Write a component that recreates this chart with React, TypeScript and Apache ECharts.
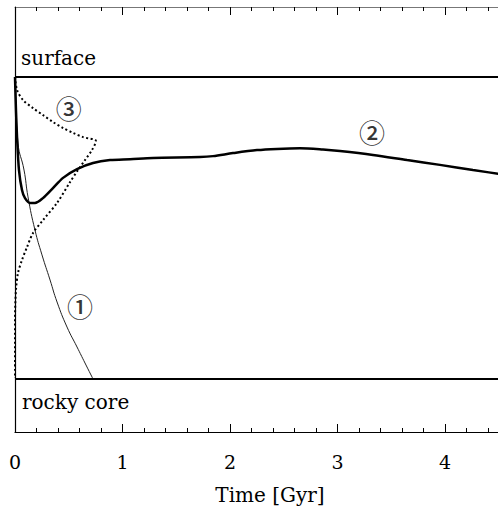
import React, { useEffect, useRef } from "react";
import * as echarts from "echarts";

// Time [Gyr] vs relative depth (0 = surface, 1 = rocky core)
const curve1Time = [0, 0.009, 0.028, 0.084, 0.121, 0.186, 0.251, 0.326, 0.391, 0.484, 0.577, 0.651, 0.726];
const curve1Depth = [0, 0.076, 0.219, 0.308, 0.397, 0.507, 0.589, 0.672, 0.745, 0.828, 0.894, 0.947, 1.0];

const curve2Time = [0, 0.009, 0.019, 0.037, 0.065, 0.093, 0.14, 0.186, 0.26, 0.353, 0.447, 0.577, 0.726, 0.884, 1.07, 1.284, 1.721, 1.842, 2.028, 2.251, 2.437, 2.651, 2.865, 3.023, 3.33, 3.647, 3.953, 4.26, 4.6];
const curve2Depth = [0, 0.109, 0.199, 0.308, 0.374, 0.401, 0.417, 0.417, 0.401, 0.368, 0.334, 0.305, 0.285, 0.275, 0.272, 0.268, 0.265, 0.262, 0.252, 0.242, 0.238, 0.236, 0.24, 0.245, 0.258, 0.275, 0.291, 0.308, 0.326];

const curve3Time = [0, 0.019, 0.074, 0.167, 0.26, 0.353, 0.447, 0.54, 0.633, 0.753, 0.716, 0.651, 0.586, 0.512, 0.391, 0.26, 0.167, 0.112, 0.065, 0.028, 0.009, 0, 0];
const curve3Depth = [0, 0.043, 0.076, 0.103, 0.126, 0.149, 0.169, 0.185, 0.199, 0.212, 0.242, 0.275, 0.308, 0.348, 0.417, 0.474, 0.517, 0.563, 0.606, 0.649, 0.705, 0.805, 0.997];

const layerDepths = [0, 1];
const annotationTime = [0.605, 3.32, 0.5];
const annotationDepth = [0.758, 0.182, 0.1];
const annotationText = ["①", "②", "③"];

const zip = (a: number[], b: number[]) => a.map((v, i) => [v, b[i]]);

export default function App() {
  const ref = useRef<HTMLDivElement>(null);
  useEffect(() => {
    const chart = echarts.init(ref.current!, null, { renderer: "svg" });
    const serif = "DejaVu Serif";
    const xCommon = {
      type: "value" as const,
      min: 0,
      max: 5,
      interval: 1,
      splitLine: { show: false },
      minorTick: { show: true, splitNumber: 5, length: 4, lineStyle: { color: "#000", width: 1 } },
      axisTick: { show: true, inside: true, length: 8, lineStyle: { color: "#000", width: 1 } },
    };
    chart.setOption({
      animation: false,
      backgroundColor: "#fff",
      grid: { left: 15, top: 7, width: 537.5, height: 425, containLabel: false },
      xAxis: [
        {
          ...xCommon,
          position: "bottom",
          axisLine: { show: true, onZero: false, lineStyle: { color: "#000", width: 1.2 } },
          axisLabel: {
            show: true,
            margin: 20,
            color: "#000",
            fontFamily: serif,
            fontSize: 19,
            showMaxLabel: false,
          },
        },
        {
          ...xCommon,
          position: "top",
          axisLine: { show: true, onZero: false, lineStyle: { color: "#777", width: 1 } },
          axisLabel: { show: false },
        },
      ],
      yAxis: {
        type: "value",
        inverse: true,
        min: -0.2318,
        max: 1.1755,
        axisLine: { show: true, onZero: false, lineStyle: { color: "#000", width: 1.2 } },
        axisTick: { show: false },
        axisLabel: { show: false },
        splitLine: { show: false },
      },
      series: [
        {
          name: "1",
          type: "line",
          data: zip(curve1Time, curve1Depth),
          showSymbol: false,
          smooth: 0.5,
          lineStyle: { color: "#222", width: 1 },
        },
        {
          name: "2",
          type: "line",
          data: zip(curve2Time, curve2Depth),
          showSymbol: false,
          smooth: 0.3,
          lineStyle: { color: "#000", width: 2.5 },
          markLine: {
            silent: true,
            symbol: "none",
            label: { show: false },
            lineStyle: { color: "#000", width: 2, type: "solid" },
            data: layerDepths.map((d) => ({ yAxis: d })),
          },
        },
        {
          name: "3",
          type: "line",
          data: zip(curve3Time, curve3Depth),
          showSymbol: false,
          smooth: 0.3,
          lineStyle: { color: "#000", width: 2, type: [2, 2.5] },
        },
        {
          name: "labels",
          type: "scatter",
          symbolSize: 1,
          itemStyle: { color: "transparent" },
          data: annotationTime.map((t, i) => ({ value: [t, annotationDepth[i]], name: annotationText[i] })),
          label: {
            show: true,
            position: "inside",
            formatter: "{b}",
            color: "#000",
            fontFamily: "Noto Sans CJK JP",
            fontWeight: 500,
            fontSize: 26,
          },
        },
      ],
      graphic: [
        {
          type: "text",
          x: 21,
          y: 58,
          style: { text: "surface", fill: "#000", fontFamily: serif, fontSize: 20, align: "left", verticalAlign: "middle" },
        },
        {
          type: "text",
          x: 22,
          y: 402,
          style: { text: "rocky core", fill: "#000", fontFamily: serif, fontSize: 20, align: "left", verticalAlign: "middle" },
        },
        {
          type: "text",
          x: 270,
          y: 495,
          style: { text: "Time [Gyr]", fill: "#000", fontFamily: serif, fontSize: 20, align: "center", verticalAlign: "middle" },
        },
      ],
    });
    return () => chart.dispose();
  }, []);
  return (
    <div style={{ position: "fixed", left: 0, top: 0, width: 498, height: 508, overflow: "hidden", background: "#fff" }}>
      <div ref={ref} style={{ width: 560, height: 508 }} />
    </div>
  );
}
